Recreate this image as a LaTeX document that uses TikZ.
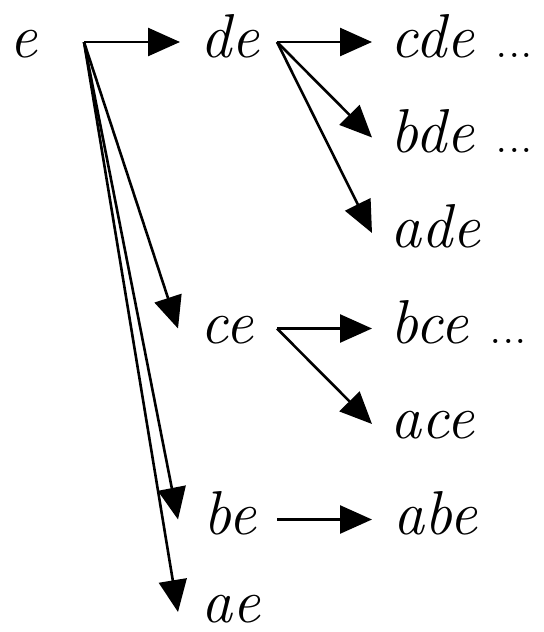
\documentclass[tikz,border=0pt]{standalone}
\usetikzlibrary{arrows.meta}
\newcommand{\mydots}{{\fontsize{25}{28}\selectfont\upshape ...}}
\begin{document}
\begin{tikzpicture}[x=0.5pt,y=-0.5pt,
  lbl/.style={anchor=base west, inner sep=0pt, font=\fontsize{31}{36}\selectfont\itshape},
  arr/.style={line width=1.3pt, -{Triangle[length=16pt,width=14pt]}}]
\useasboundingbox (0,0) rectangle (544,632);
% labels
\node[lbl] (e)   at (9,57)    {e};
\node[lbl] (de)  at (200,57)  {de};
\node[lbl] (cde) at (390,57)  {cde \mydots};
\node[lbl] (bde) at (390,152) {bde \mydots};
\node[lbl] (ade) at (390,247.5) {ade};
\node[lbl] (ce)  at (200,343) {ce};
\node[lbl] (bce) at (390,343) {bce \mydots};
\node[lbl] (ace) at (390,438.5) {ace};
\node[lbl] (be)  at (203,534) {be};
\node[lbl] (abe) at (393,534) {abe};
\node[lbl] (ae)  at (201,622) {ae};
% connector ends
\coordinate (e-out)  at (84,42);
\coordinate (de-in)  at (180,42);
\coordinate (ce-in)  at (178,328.5);
\coordinate (be-in)  at (178,519.5);
\coordinate (ae-in)  at (178,612);
\coordinate (de-out) at (277,42);
\coordinate (cde-in) at (372,42);
\coordinate (bde-in) at (372,137.5);
\coordinate (ade-in) at (372,233);
\coordinate (ce-out) at (277,328.5);
\coordinate (bce-in) at (372,328.5);
\coordinate (ace-in) at (372,424);
\coordinate (be-out) at (277,519.5);
\coordinate (abe-in) at (372,519.5);
% connectors
\draw[arr] (e-out) -- (de-in);
\draw[arr] (e-out) -- (ce-in);
\draw[arr] (e-out) -- (be-in);
\draw[arr] (e-out) -- (ae-in);
\draw[arr] (de-out) -- (cde-in);
\draw[arr] (de-out) -- (bde-in);
\draw[arr] (de-out) -- (ade-in);
\draw[arr] (ce-out) -- (bce-in);
\draw[arr] (ce-out) -- (ace-in);
\draw[arr] (be-out) -- (abe-in);
\end{tikzpicture}
\end{document}
